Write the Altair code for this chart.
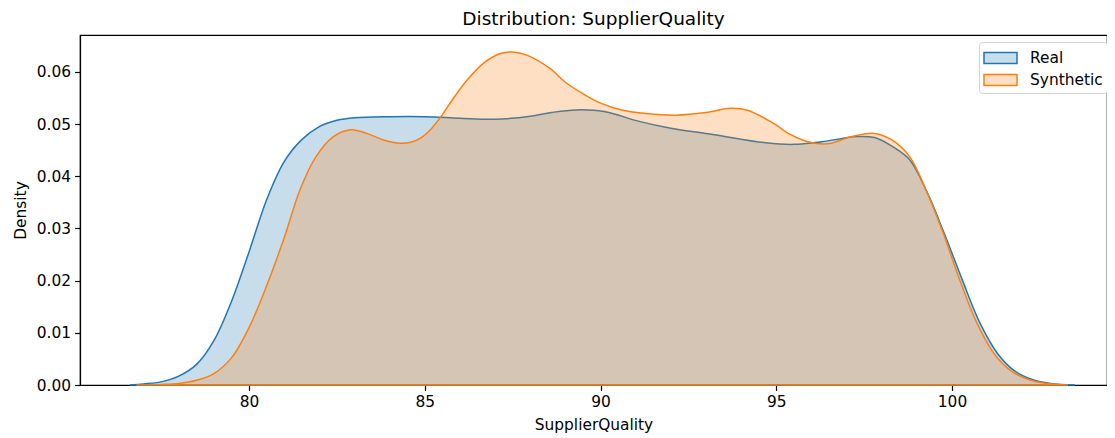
import altair as alt
import pandas as pd

# Data (KDE curves)
real_x = [76.6, 77.0, 77.5, 78.0, 78.5, 79.0, 79.5, 80.0, 80.5, 81.0, 81.5, 82.0, 82.5, 83.0,
          84.0, 85.0, 86.0, 87.0, 88.0, 88.6, 89.3, 90.1, 91.1, 92.0, 93.2, 94.7, 95.5, 96.3,
          97.3, 97.8, 98.3, 98.8, 99.3, 99.8, 100.3, 100.8, 101.3, 101.8, 102.3, 102.8, 103.5]
real_y = [0.0, 0.0002, 0.0006, 0.0017, 0.0039, 0.0085, 0.016, 0.0255, 0.0355, 0.0428, 0.047,
          0.0495, 0.0507, 0.0512, 0.0514, 0.0514, 0.0511, 0.0509, 0.0515, 0.0522, 0.0527,
          0.0524, 0.0505, 0.0492, 0.048, 0.0464, 0.0461, 0.0466, 0.0476, 0.0474, 0.0457,
          0.0431, 0.0368, 0.0287, 0.02, 0.0118, 0.006, 0.0026, 0.001, 0.0003, 0.0]

syn_x = [76.8, 77.5, 78.0, 78.5, 79.0, 79.5, 80.0, 80.5, 81.0, 81.45, 81.9, 82.4, 82.9, 83.35,
         83.8, 84.3, 84.6, 84.9, 85.2, 85.5, 85.8, 86.2, 86.7, 87.15, 87.5, 87.9, 88.55, 89.0,
         89.5, 90.0, 90.6, 91.3, 92.15, 93.0, 93.7, 94.2, 94.9, 95.4, 95.9, 96.45, 97.15, 97.8,
         98.3, 98.8, 99.25, 99.75, 100.2, 100.7, 101.2, 101.7, 102.2, 102.7, 103.3]
syn_y = [0.0, 0.0001, 0.0003, 0.0009, 0.0022, 0.0052, 0.011, 0.019, 0.0282, 0.0374, 0.0437,
         0.0476, 0.0489, 0.0482, 0.047, 0.0463, 0.0465, 0.0474, 0.0492, 0.0518, 0.0548, 0.0584,
         0.0618, 0.0635, 0.0638, 0.0632, 0.0607, 0.058, 0.0558, 0.054, 0.0527, 0.052, 0.0517,
         0.0522, 0.053, 0.0526, 0.0502, 0.048, 0.0466, 0.0462, 0.0476, 0.0482, 0.0469, 0.0437,
         0.0375, 0.0291, 0.0205, 0.012, 0.006, 0.0026, 0.001, 0.0003, 0.0]

series_names = ["Real", "Synthetic"]
line_colors = ["#1f77b4", "#ff7f0e"]
fill_colors = ["rgba(31,119,180,0.25)", "rgba(255,127,14,0.25)"]
x_ticks = [80, 85, 90, 95, 100]
y_ticks = [0.0, 0.01, 0.02, 0.03, 0.04, 0.05, 0.06]

df = pd.concat([
    pd.DataFrame({"SupplierQuality": real_x, "Density": real_y, "series": series_names[0]}),
    pd.DataFrame({"SupplierQuality": syn_x, "Density": syn_y, "series": series_names[1]}),
], ignore_index=True)

FONT = "DejaVu Sans"
legend = alt.Legend(
    title=None, orient="none", legendX=899, legendY=7,
    symbolType="M-1,-0.5H2V0.5H-1Z", symbolSize=484, symbolStrokeWidth=1.5,
    labelFont=FONT, labelFontSize=15.4, labelColor="black", labelOffset=23,
    padding=4, rowPadding=1, strokeColor="#d3d3d3", fillColor="white", cornerRadius=3,
)

chart = alt.Chart(df).mark_area(
    strokeWidth=1.5, interpolate="catmull-rom"
).encode(
    x=alt.X("SupplierQuality:Q",
            scale=alt.Scale(domain=[75.19, 104.41], nice=False, zero=False),
            axis=alt.Axis(values=x_ticks, title="SupplierQuality", grid=False, format="d")),
    y=alt.Y("Density:Q", stack=None,
            scale=alt.Scale(domain=[0, 0.06705], nice=False),
            axis=alt.Axis(values=y_ticks, format=".2f", title="Density", grid=False)),
    color=alt.Color("series:N", scale=alt.Scale(domain=series_names, range=fill_colors),
                    legend=legend),
    stroke=alt.Stroke("series:N", scale=alt.Scale(domain=series_names, range=line_colors),
                      legend=legend),
).properties(
    width=1027, height=350,
    title=alt.Title("Distribution: SupplierQuality", font=FONT, fontSize=18.5,
                    fontWeight="normal", color="black", offset=7),
    autosize=alt.AutoSizeParams(type="none"),
    padding={"left": 72, "top": 27, "right": 0, "bottom": 48},
).configure_view(
    stroke="black", strokeWidth=1.2
).configure_axis(
    labelFont=FONT, labelFontSize=15.4, labelColor="black",
    titleFont=FONT, titleFontSize=15.4, titleFontWeight="normal", titleColor="black",
    domainColor="black", domainWidth=1.2, tickColor="black", tickWidth=1.2, tickSize=5.4,
    labelPadding=4,
).configure_axisX(
    titlePadding=8
).configure_axisY(
    titlePadding=8
)

chart.save("out.html", embed_options={"renderer": "svg", "actions": False})
